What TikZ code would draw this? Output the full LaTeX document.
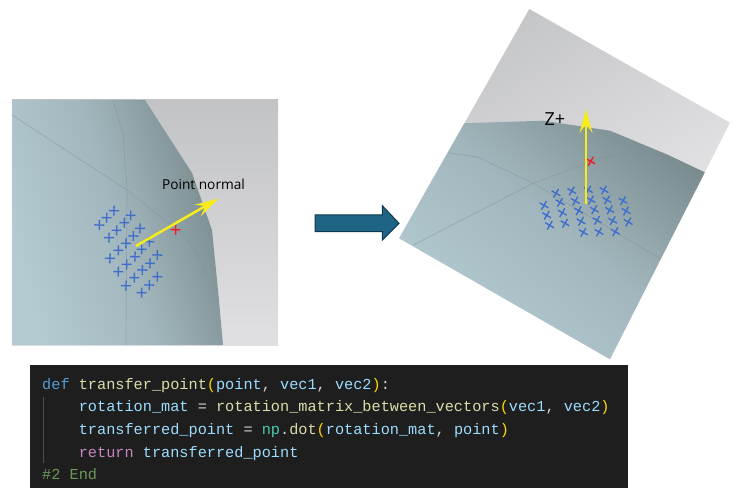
\documentclass[tikz,border=0pt]{standalone}
\usepackage{fontspec}
\setsansfont{Open Sans}
\setmonofont{Liberation Mono}
\usetikzlibrary{arrows.meta}

\definecolor{surfacelight}{HTML}{B4CBD2}
\definecolor{surfacemid}{HTML}{A2B7BD}
\definecolor{surfacedark}{HTML}{78898C}
\definecolor{greydark}{HTML}{C2C3C5}
\definecolor{greylight}{HTML}{E0E0E2}
\definecolor{seamline}{HTML}{7F9297}
\definecolor{markblue}{HTML}{3F6FCB}
\definecolor{markred}{HTML}{EE1C25}
\definecolor{arrowyellow}{HTML}{F6EC1C}
\definecolor{blockfill}{HTML}{1F6485}
\definecolor{blockedge}{HTML}{10384F}
\definecolor{codebg}{HTML}{1E1E1E}
\definecolor{codekey}{HTML}{569CD6}
\definecolor{codefun}{HTML}{DCDCAA}
\definecolor{codevar}{HTML}{9CDCFE}
\definecolor{codeparen}{HTML}{FFD700}
\definecolor{codetype}{HTML}{4EC9B0}
\definecolor{coderet}{HTML}{C586C0}
\definecolor{codecmt}{HTML}{6A9955}
\definecolor{codeop}{HTML}{D4D4D4}

\newcommand{\kw}[1]{\textcolor{codekey}{#1}}
\newcommand{\fn}[1]{\textcolor{codefun}{#1}}
\newcommand{\vr}[1]{\textcolor{codevar}{#1}}
\newcommand{\pa}[1]{\textcolor{codeparen}{#1}}
\newcommand{\op}[1]{\textcolor{codeop}{#1}}

\tikzset{
  seam/.style={seamline, line width=.7pt, opacity=.5},
  ptmark/.style={line width=1.4pt},
  normalarrow/.style={arrowyellow, line width=2.5pt, -{Stealth[length=24pt, width=13pt, inset=9pt]}},
  codeline/.style={anchor=base west, inner sep=0pt, font=\ttfamily\fontsize{15.25}{15.25}\selectfont},
}

\begin{document}
\begin{tikzpicture}[x=1pt, y=-1pt]
  \useasboundingbox (0, 0) rectangle (737, 492);

  % left view
  \begin{scope}
    \clip (12, 100) rectangle (278, 345);
    \shade[top color=greydark, bottom color=greylight] (12, 100) rectangle (278, 345);
    \clip (12, 100) -- (145, 100) -- (192, 173) -- (212, 230) -- (218, 290) -- (223, 345) -- (12, 345) -- cycle;
    \shade[left color=surfacelight, right color=surfacedark, middle color=surfacemid, shading angle=107]
      (12, 100) rectangle (223, 345);
    \draw[seam] (12, 115) -- (127, 190) -- (187, 238) -- (218, 292);
    \draw[seam] (113, 100) -- (123, 133) -- (127, 190) -- (126, 345);
  \end{scope}

  % blue points, left view
  \foreach \px/\py in {99.3/225, 106.7/217.7, 114/210.7,
                       109/237.7, 116.7/230.3, 124.3/222.7, 130.7/215.3,
                       110/258.3, 118.3/250.3, 126/243.3, 133.3/236, 140/228.3,
                       118.3/271.7, 126.7/264.3, 135/256.7, 141.7/249.3, 149.3/241.7,
                       126/285.7, 134.3/277.7, 142.3/270, 150/263.3, 157.3/255,
                       141.7/292.7, 149.3/285, 157.3/276.7}
    \draw[ptmark, markblue] (\px, \py) +(1:5) -- +(181:5) +(91:5) -- +(271:5);
  \draw[ptmark, markred] (175.7, 229.7) +(1:5) -- +(181:5) +(91:5) -- +(271:5);

  \coordinate (normalstart) at (136, 246);
  \coordinate (normaltip) at (218.5, 198.5);
  \draw[normalarrow] (normalstart) -- (normaltip);
  \node[font=\sffamily\fontsize{13.7}{13.7}\selectfont, inner sep=0pt] (normallabel) at (203.5, 184) {Point normal};

  % block arrow between the views
  \draw[fill=blockfill, draw=blockedge, line width=1pt]
    (315, 215) -- (382.3, 215) -- (382.3, 205.7) -- (399, 223.3) -- (382.3, 240) -- (382.3, 231.7) -- (315, 231.7) -- cycle;

  % right view, turned
  \begin{scope}
    \clip (529.3, 9) -- (730, 122.7) -- (610, 359.3) -- (399, 238.3) -- cycle;
    \shade[top color=greydark, bottom color=greylight, shading angle=30] (399, 9) rectangle (730, 200);
    \clip (399, 238.3) -- (464, 123.3) -- (543.3, 120.7) -- (610, 130.7) -- (668.3, 155) -- (714, 176.7) -- (610, 359.3) -- cycle;
    \shade[left color=surfacelight, right color=surfacedark, middle color=surfacemid, shading angle=140]
      (399, 110) rectangle (730, 360);
    \draw[seam] (448.3, 152.7) -- (478.3, 157.3) -- (533.3, 183.3) -- (606.7, 226.7) -- (665, 261.7);
    \draw[seam] (413.3, 245) -- (533.3, 183.3) -- (606.7, 156) -- (668.3, 155);
  \end{scope}

  % blue points, right view
  \foreach \px/\py in {556/193.3, 571.7/191, 588.3/190, 604/190,
                       544/205.3, 560/202.3, 575.3/201, 591/200, 607/200, 623/200.7,
                       546.7/215.3, 562.3/212.7, 578.7/210.7, 594.3/209.7, 609.7/210, 626/211,
                       549.7/225.3, 565/223.3, 581/221.3, 597/220.3, 612.7/220.7, 628.3/222,
                       583.3/232.3, 599/232, 615.3/231.7}
    \draw[ptmark, markblue] (\px, \py) +(30:5) -- +(210:5) +(120:5) -- +(300:5);
  \draw[ptmark, markred] (590.7, 161.3) +(30:5) -- +(210:5) +(120:5) -- +(300:5);

  \coordinate (zstart) at (586, 204);
  \coordinate (ztip) at (586, 109);
  \draw[normalarrow] (zstart) -- (ztip);
  \node[font=\sffamily\fontsize{18}{18}\selectfont, inner sep=0pt] (zlabel) at (555, 119.3) {Z+};

  % code panel
  \fill[codebg] (30, 365) rectangle (628, 488);
  \draw[black!70!white, line width=.5pt] (43.5, 397) -- (43.5, 463);
  \node[codeline] (line1) at (42, 389) {\kw{def} \fn{transfer\_point}\pa{(}\vr{point}\op{,} \vr{vec1}\op{,} \vr{vec2}\pa{)}\op{:}};
  \node[codeline] (line2) at (42, 411) {\phantom{xxxx}\vr{rotation\_mat} \op{=} \fn{rotation\_matrix\_between\_vectors}\pa{(}\vr{vec1}\op{,} \vr{vec2}\pa{)}};
  \node[codeline] (line3) at (42, 434) {\phantom{xxxx}\vr{transferred\_point} \op{=} \textcolor{codetype}{np}\op{.}\fn{dot}\pa{(}\vr{rotation\_mat}\op{,} \vr{point}\pa{)}};
  \node[codeline] (line4) at (42, 457) {\phantom{xxxx}\textcolor{coderet}{return} \vr{transferred\_point}};
  \node[codeline] (line5) at (42, 479) {\textcolor{codecmt}{\#2 End}};
\end{tikzpicture}
\end{document}
